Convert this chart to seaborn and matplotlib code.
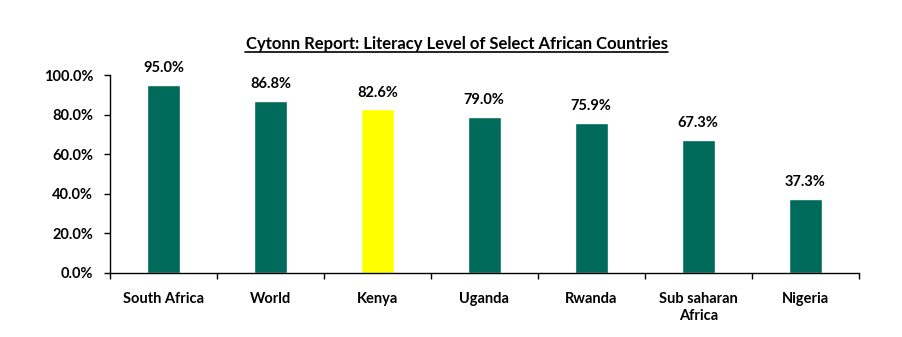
import matplotlib
matplotlib.use("Agg")
import matplotlib.pyplot as plt
import seaborn as sns
import pandas as pd
from matplotlib.ticker import FixedLocator, PercentFormatter

countries = ["South Africa", "World", "Kenya", "Uganda", "Rwanda", "Sub saharan\nAfrica", "Nigeria"]
literacy = [95.0, 86.8, 82.6, 79.0, 75.9, 67.3, 37.3]
highlight = "Kenya"

GREEN = "#006B5B"
YELLOW = "#FFFF00"

sns.set_theme(style="white")
plt.rcParams["font.family"] = ["Lato", "DejaVu Sans"]
plt.rcParams["font.weight"] = "bold"

df = pd.DataFrame({"country": countries, "literacy": literacy})
palette = {c: (YELLOW if c == highlight else GREEN) for c in countries}

fig = plt.figure(figsize=(9.03, 3.37), dpi=100)
ax = fig.add_axes([0.1218, 0.19, 0.829, 0.5874])

sns.barplot(data=df, x="country", y="literacy", hue="country", palette=palette,
            width=0.31, saturation=1, legend=False, ax=ax)

for i, v in enumerate(literacy):
    ax.text(i, v + 5, f"{v:.1f}%", ha="center", va="bottom",
            fontsize=10.5, fontweight="bold", color="black")

ax.set_ylim(0, 100)
ax.set_xlim(-0.5, len(countries) - 0.5)
ax.yaxis.set_major_locator(FixedLocator([0, 20, 40, 60, 80, 100]))
ax.yaxis.set_major_formatter(PercentFormatter(decimals=1))
ax.set_xlabel("")
ax.set_ylabel("")

for side in ["top", "right"]:
    ax.spines[side].set_visible(False)
for side in ["left", "bottom"]:
    ax.spines[side].set_color("black")
    ax.spines[side].set_linewidth(1)

ax.tick_params(axis="y", which="major", direction="out", length=4, width=1,
               color="black", labelsize=10.5, pad=8, left=True)
ax.tick_params(axis="x", which="major", length=0, labelsize=10.5, pad=14)
ax.xaxis.set_minor_locator(FixedLocator([i - 0.5 for i in range(len(countries) + 1)]))
ax.tick_params(axis="x", which="minor", direction="out", length=4, width=1,
               color="black", bottom=True)
for lbl in ax.get_xticklabels() + ax.get_yticklabels():
    lbl.set_fontweight("bold")
    lbl.set_color("black")

fig.text(0.506, 0.870, "Cytonn Report: Literacy Level of Select African Countries",
         ha="center", va="center", fontsize=12, fontweight="bold", color="black")
title_line_y = 0.846
fig.add_artist(plt.Line2D([0.271, 0.740], [title_line_y, title_line_y],
                          transform=fig.transFigure, color="black", linewidth=1.2))

fig.savefig("out.png", dpi=100, facecolor="white")
